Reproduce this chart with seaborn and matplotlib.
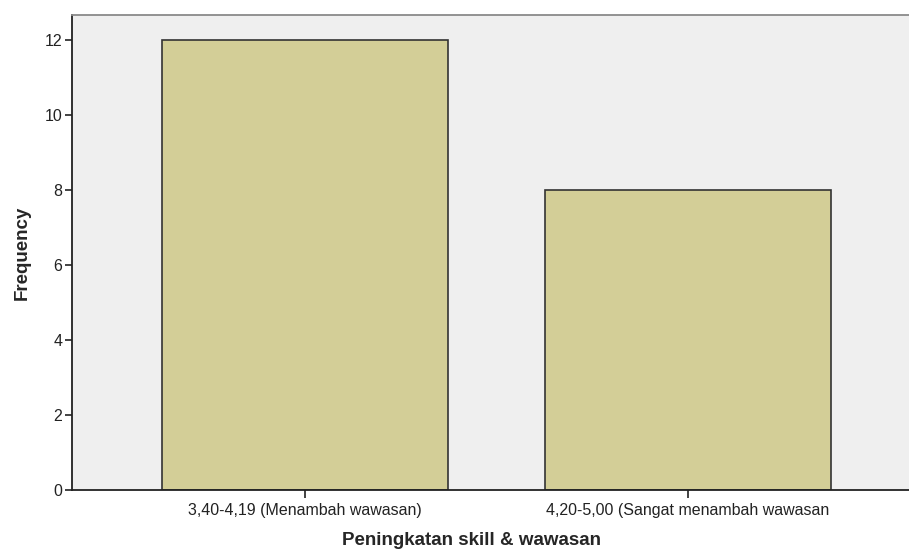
import matplotlib
matplotlib.use("Agg")
import matplotlib.pyplot as plt
import seaborn as sns
import pandas as pd

categories = ["3,40-4,19 (Menambah wawasan)", "4,20-5,00 (Sangat menambah wawasan"]
frequency = [12, 8]
y_ticks = [0, 2, 4, 6, 8, 10, 12]

sns.set_style("white")
plt.rcParams["font.family"] = ["Liberation Sans", "DejaVu Sans"]

df = pd.DataFrame({"cat": categories, "freq": frequency})

fig = plt.figure(figsize=(9.09, 5.54), dpi=100)
ax = fig.add_axes([72 / 909, 1 - 490 / 554, (909 - 72) / 909, (490 - 15) / 554])
ax.set_facecolor("#EFEFEF")

sns.barplot(data=df, x="cat", y="freq", color="#D3CE97", saturation=1,
            width=0.747, edgecolor="#333333", linewidth=1.2, ax=ax)

ax.set_xlim(-0.608, 1.577)
ax.set_ylim(0, 12.67)
ax.set_yticks(y_ticks)
ax.set_yticklabels([str(v) for v in y_ticks])

for s in ["left", "bottom"]:
    ax.spines[s].set_color("#222222")
    ax.spines[s].set_linewidth(1.3)
ax.spines["top"].set_color("#8a8a8a")
ax.spines["top"].set_linewidth(1.3)
ax.spines["right"].set_visible(False)

ax.tick_params(axis="both", which="both", direction="out", length=5, width=1.2,
               color="#222222", labelsize=11.5, labelcolor="#222222", pad=2,
               left=True, bottom=True)
ax.tick_params(axis="x", length=6, pad=3)

ax.set_xlabel("Peningkatan skill & wawasan", fontsize=13.5, fontweight="bold")
ax.set_ylabel("Frequency", fontsize=13.5, fontweight="bold")
ax.xaxis.set_label_coords(0.477, -0.107)
ax.yaxis.set_label_coords(-0.0597, 0.5)
ax.xaxis.label.set_va("center")
ax.yaxis.label.set_va("center")

fig.savefig("out.png", dpi=100)
